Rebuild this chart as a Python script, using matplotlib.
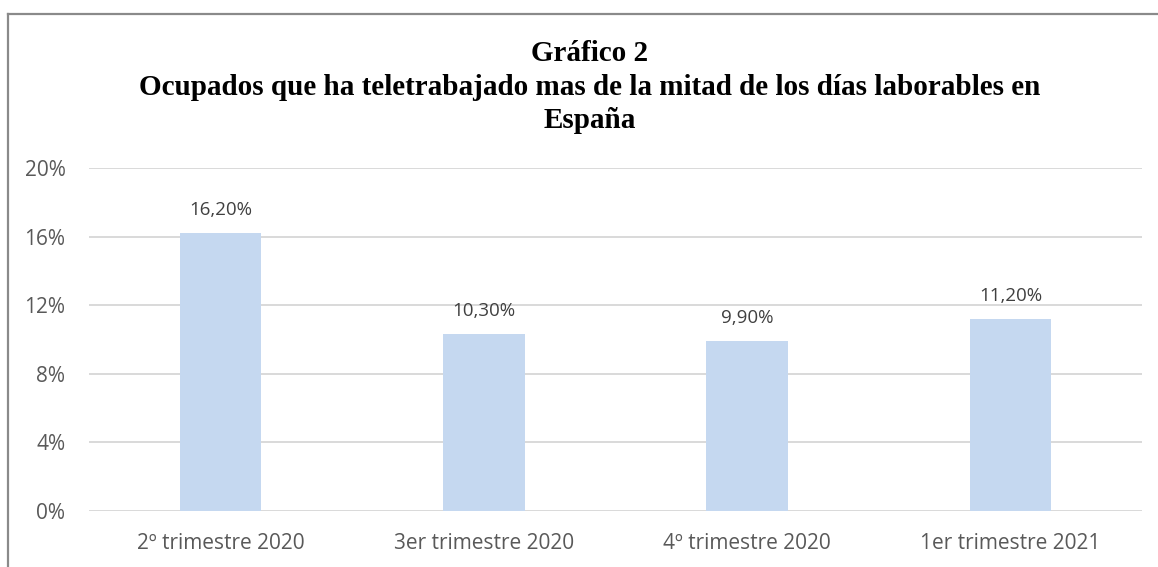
import matplotlib
matplotlib.use("Agg")
import matplotlib.pyplot as plt
from matplotlib.lines import Line2D

categories = ["2º trimestre 2020", "3er trimestre 2020", "4º trimestre 2020", "1er trimestre 2021"]
values = [16.2, 10.3, 9.9, 11.2]
value_labels = ["16,20%", "10,30%", "9,90%", "11,20%"]
yticks = [0, 4, 8, 12, 16, 20]
ytick_labels = ["0%", "4%", "8%", "12%", "16%", "20%"]
title_lines = ["Gráfico 2",
               "Ocupados que ha teletrabajado mas de la mitad de los días laborables en",
               "España"]

W, H = 1158, 567
fig = plt.figure(figsize=(W/100, H/100), dpi=100)
fig.patch.set_facecolor("white")

# Border (left and top)
border_col = "#8a8a8a"
fig.add_artist(Line2D([8.2/W, 8.2/W], [0, 1 - 14/H], transform=fig.transFigure, color=border_col, lw=1.6))
fig.add_artist(Line2D([8.2/W, 1], [1 - 14.2/H, 1 - 14.2/H], transform=fig.transFigure, color=border_col, lw=1.6))

ax_left, ax_right = 89, 1142
ax_top, ax_bot = 168, 511
ax = fig.add_axes([ax_left/W, 1 - ax_bot/H, (ax_right-ax_left)/W, (ax_bot-ax_top)/H])

x = list(range(len(categories)))
ax.bar(x, values, width=0.31, color="#c5d8f0", zorder=2)
ax.set_xlim(-0.5, len(categories) - 0.5)
ax.set_ylim(0, 20)
ax.set_yticks(yticks)
ax.set_yticklabels(ytick_labels)
ax.set_xticks(x)
ax.set_xticklabels(categories)
ax.grid(axis="y", color="#d9d9d9", lw=1.4, zorder=0)
ax.set_axisbelow(True)
for s in ax.spines.values():
    s.set_visible(False)
ax.tick_params(length=0, colors="#595959", labelsize=15)
ax.tick_params(axis="y", pad=17)
ax.tick_params(axis="x", pad=16)
for lab in ax.get_xticklabels() + ax.get_yticklabels():
    lab.set_fontfamily("Open Sans")
    lab.set_color("#595959")

for xi, v, t in zip(x, values, value_labels):
    ax.annotate(t, (xi, v), xytext=(0, 23 * 0.72), textcoords="offset points",
                ha="center", va="center", fontsize=13.5, color="#404040", family="Open Sans")

baselines = [61, 95, 128]
for line, yb in zip(title_lines, baselines):
    fig.text(590/W, 1 - yb/H, line, ha="center", va="baseline", family="Liberation Serif",
             fontweight="bold", fontsize=21, color="black")

fig.savefig("out.png", dpi=100)
